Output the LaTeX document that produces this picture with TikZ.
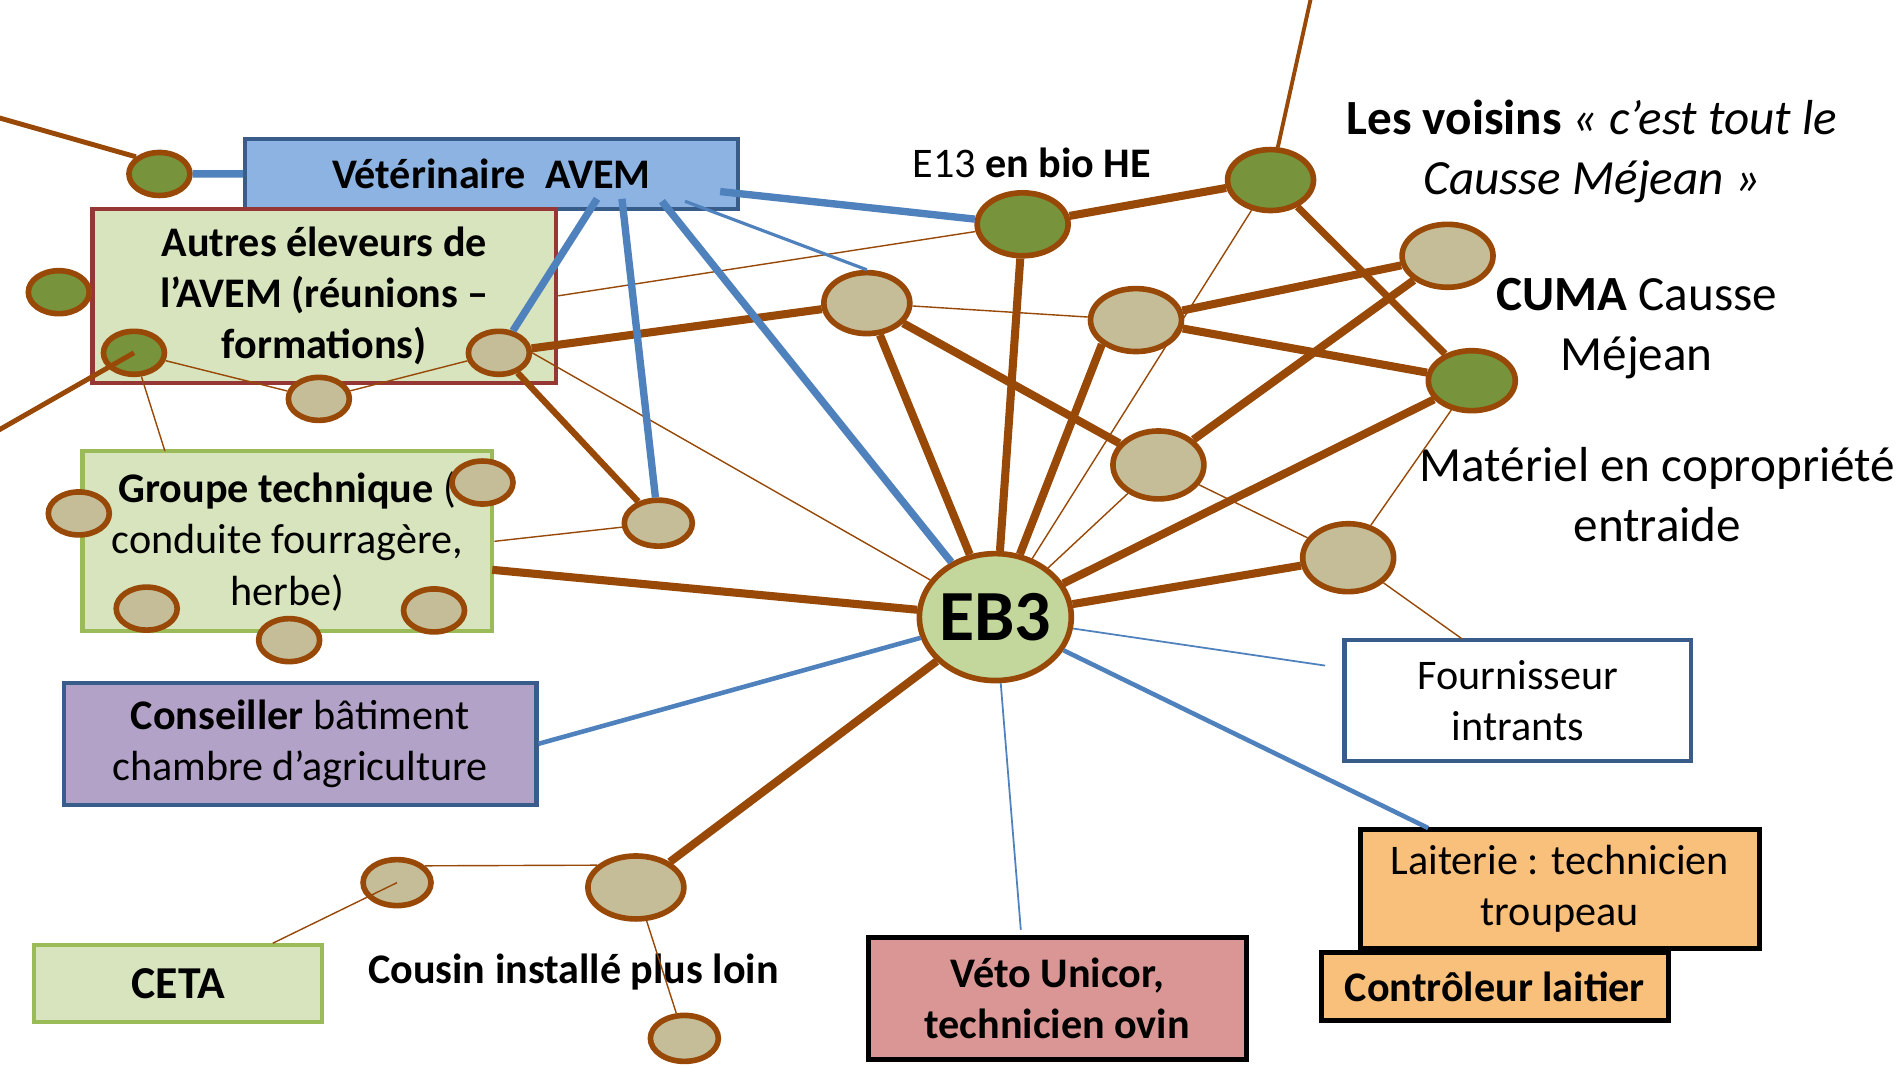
\documentclass[tikz,border=0pt]{standalone}
\usepackage{fontspec}
\setmainfont{Carlito}
\usetikzlibrary{shapes.geometric}

\definecolor{brun}{RGB}{152,72,7}
\definecolor{bleu}{RGB}{79,129,189}
\definecolor{bleufonce}{RGB}{56,93,138}
\definecolor{bleuciel}{RGB}{141,179,226}
\definecolor{beige}{RGB}{196,189,151}
\definecolor{vertfonce}{RGB}{119,147,60}
\definecolor{vertpale}{RGB}{215,228,189}
\definecolor{vertbord}{RGB}{155,187,89}
\definecolor{vertEB}{RGB}{195,214,155}
\definecolor{rougebord}{RGB}{149,55,53}
\definecolor{mauve}{RGB}{179,162,199}
\definecolor{rose}{RGB}{217,150,148}
\definecolor{abricot}{RGB}{248,192,122}

\begin{document}
\begin{tikzpicture}[x=0.012124cm, y=-0.012124cm,
    txt/.style={font=\fontsize{12}{14.6}\selectfont, align=center},
    txtgras/.style={font=\fontsize{12}{14.6}\selectfont\bfseries, align=center},
    grandtxt/.style={font=\fontsize{14}{17.2}\selectfont, align=center},
    boite/.style={rectangle, inner sep=0pt, line width=1.2pt},
    rond/.style={ellipse, draw=brun, line width=1.6pt, inner sep=0pt},
    pastille/.style={rond, minimum width=0.61cm, minimum height=0.43cm},
    pastillem/.style={rond, minimum width=0.68cm, minimum height=0.46cm},
    bulle/.style={rond, minimum width=0.91cm, minimum height=0.63cm},
    lienfort/.style={draw=brun, line width=2.3pt},
    lienmoyen/.style={draw=brun, line width=1.4pt},
    lienfin/.style={draw=brun, line width=0.4pt},
    bleufort/.style={draw=bleu, line width=2.1pt},
    bleumoyen/.style={draw=bleu, line width=1.3pt},
    bleufin/.style={draw=bleu, line width=0.5pt}]

    % 背景与画面范围
    \path[use as bounding box, fill=white] (0,0) rectangle (1568,878);

    % 方框
    \node[boite, txtgras, draw=bleufonce, fill=bleuciel, minimum width=4.93cm, minimum height=0.7cm] (vet) at (405.4,143.4) {Vétérinaire\ \ AVEM};
    \node[boite, txtgras, draw=rougebord, fill=vertpale, minimum width=4.64cm, minimum height=1.74cm] (autres) at (267.5,244) {Autres éleveurs de\\l’AVEM (réunions –\\formations)};
    \node[boite, txt, draw=vertbord, fill=vertpale, minimum width=4.1cm, minimum height=1.8cm] (groupe) at (237,446.5) {\textbf{Groupe technique} (\\conduite fourragère,\\herbe)};
    \node[boite, txt, draw=bleufonce, fill=mauve, minimum width=4.73cm, minimum height=1.22cm] (conseil) at (247.5,613.5) {\textbf{Conseiller} bâtiment\\chambre d’agriculture};
    \node[boite, txtgras, font=\fontsize{13}{15.6}\selectfont\bfseries, draw=vertbord, fill=vertpale, minimum width=2.88cm, minimum height=0.77cm] (ceta) at (147,811) {CETA};
    \node[boite, txtgras, draw=black, line width=1.4pt, fill=rose, minimum width=3.78cm, minimum height=1.22cm] (veto) at (872,823.5) {Véto Unicor,\\technicien ovin};
    \node[boite, txt, draw=black, line width=1.4pt, fill=abricot, minimum width=3.99cm, minimum height=1.19cm] (laiterie) at (1286.5,733) {Laiterie : technicien\\troupeau};
    \node[boite, txtgras, draw=black, line width=1.4pt, fill=abricot, minimum width=3.47cm, minimum height=0.68cm] (controle) at (1233,814) {Contrôleur laitier};
    \node[boite, txt, draw=bleufonce, fill=white, minimum width=3.47cm, minimum height=1.21cm] (fourn) at (1252,578) {Fournisseur\\intrants};

    % 文字标签
    \node[txt] (le13) at (851,134) {E13 \textbf{en bio HE}};
    \node[grandtxt] (lvois) at (1313,125) {\textbf{Les voisins} \textit{« c’est tout le}\\\textit{Causse Méjean »}};
    \node[grandtxt] (lcuma) at (1350,271) {\textbf{CUMA} Causse\\Méjean};
    \node[grandtxt] (lmat) at (1367,408) {Matériel en copropriété\\entraide};
    \node[txtgras] (lcousin) at (473,802) {Cousin installé plus loin};

    % 绿色圆点
    \node[pastille, fill=vertfonce] (g1) at (131.5,143.5) {};
    \node[pastille, fill=vertfonce] (g2) at (48.5,241) {};
    \node[pastille, fill=vertfonce] (g3) at (110.5,291) {};
    \node[bulle, fill=vertfonce] (e13) at (843.5,185) {};
    \node[bulle, fill=vertfonce, minimum width=0.86cm, minimum height=0.61cm] (vois) at (1048,148.5) {};
    \node[bulle, fill=vertfonce, minimum width=0.87cm, minimum height=0.6cm] (cuma) at (1214,314) {};

    % 米色圆点
    \node[pastille, fill=beige] (b1) at (411.5,291) {};
    \node[pastille, fill=beige] (b2) at (263,329) {};
    \node[bulle, fill=beige, minimum width=0.86cm, minimum height=0.61cm] (b3) at (715,250) {};
    \node[bulle, fill=beige] (b4) at (937,264) {};
    \node[bulle, fill=beige] (b5) at (1194,211) {};
    \node[bulle, fill=beige, minimum height=0.68cm] (b6) at (955.5,383.5) {};
    \node[bulle, fill=beige, minimum height=0.68cm] (b7) at (1112,460) {};
    \node[pastillem, fill=beige] (b8) at (543,431.5) {};

    % 技术小组周围的圆点
    \foreach \nom/\px/\py in {t1/65/423.5, t2/398/398, t3/121/502, t4/358/503.5, t5/238.5/528}
        \node[pastille, fill=beige] (\nom) at (\px,\py) {};

    % 表兄一组
    \node[pastillem, fill=beige] (cs) at (327.5,728) {};
    \node[bulle, fill=beige, minimum width=0.96cm] (cb) at (524.5,732) {};
    \node[pastillem, fill=beige] (cbas) at (564.5,856.5) {};

    % 中心
    \node[ellipse, draw=brun, fill=vertEB, line width=1.6pt, inner sep=-2mm, minimum width=1.52cm, minimum height=1.27cm, font=\fontsize{20.5}{24}\selectfont\bfseries] (eb) at (821,509) {EB3};

    % 连线端点
    \coordinate (hg) at (-5,96);
    \coordinate (bg) at (-5,357);
    \coordinate (haut) at (1082,-5);
    \coordinate (v1) at (492.5,164);
    \coordinate (v2) at (513,164);
    \coordinate (v3) at (546,166);
    \coordinate (v4) at (565,166);
    \coordinate (v5) at (594,158);
    \coordinate (gtop) at (136,372);
    \coordinate (gdroit) at (406,470);
    \coordinate (ftop) at (1206,527);
    \coordinate (fpt) at (1093,549);
    \coordinate (ltop) at (1178,683);
    \coordinate (vtop) at (842,767);
    \coordinate (ctop) at (225,778);

    % 棕色粗线
    \draw[lienfort] (b1) -- (b3);
    \draw[lienfort] (b3) -- (eb);
    \draw[lienfort] (b3) -- (b6);
    \draw[lienfort] (b4) -- (b5);
    \draw[lienfort] (b4) -- (cuma);
    \draw[lienfort] (b4.south west) -- (eb);
    \draw[lienfort] (b6) -- (b5);
    \draw[lienfort] (cuma) -- (eb);
    \draw[lienfort] (b7) -- (eb);
    \draw[lienfort] (e13) -- (eb);
    \draw[lienfort] (e13) -- (vois);
    \draw[lienfort] (gdroit) -- (eb);
    \draw[lienfort] (cb) -- (eb);

    % 棕色中线
    \draw[lienmoyen, line width=2pt] (vois) -- (cuma);
    \draw[lienmoyen, line width=1.8pt] (b1) -- (b8);
    \draw[lienmoyen, line width=1.1pt] (vois) -- (haut);
    \draw[lienmoyen] (hg) -- (g1.north west);
    \draw[lienmoyen] (g3.center) -- (bg);

    % 棕色细线
    \draw[lienfin] (autres.east) -- (e13);
    \draw[lienfin] (b1.east) -- (eb);
    \draw[lienfin] (b3) -- (b4);
    \draw[lienfin] (vois) -- (eb);
    \draw[lienfin] (b6) -- (eb);
    \draw[lienfin] (b6) -- (b7);
    \draw[lienfin] (b7) -- (cuma);
    \draw[lienfin] (b7) -- (ftop);
    \draw[lienfin] (groupe.east) -- (b8);
    \draw[lienfin] (g3) -- (b2);
    \draw[lienfin] (b2) -- (b1);
    \draw[lienfin] (g3) -- (gtop);
    \draw[lienfin] (cs.31) -- (cb.150);
    \draw[lienfin] (ctop) -- (cs.center);
    \draw[lienfin] (cb) -- (cbas);

    % 蓝线
    \draw[bleufort] (g1) -- (vet.west);
    \draw[bleufort] (v5) -- (e13);
    \draw[bleufin, line width=0.9pt] (v4) -- (b3.north);
    \draw[bleufort] (v3) -- (eb);
    \draw[bleufort] (v2) -- (b8);
    \draw[bleufort] (v1) -- (b1);
    \draw[bleumoyen] (conseil.east) -- (eb);
    \draw[bleufin] (eb) -- (fpt);
    \draw[bleumoyen] (eb) -- (ltop);
    \draw[bleufin] (eb) -- (vtop);
\end{tikzpicture}
\end{document}
